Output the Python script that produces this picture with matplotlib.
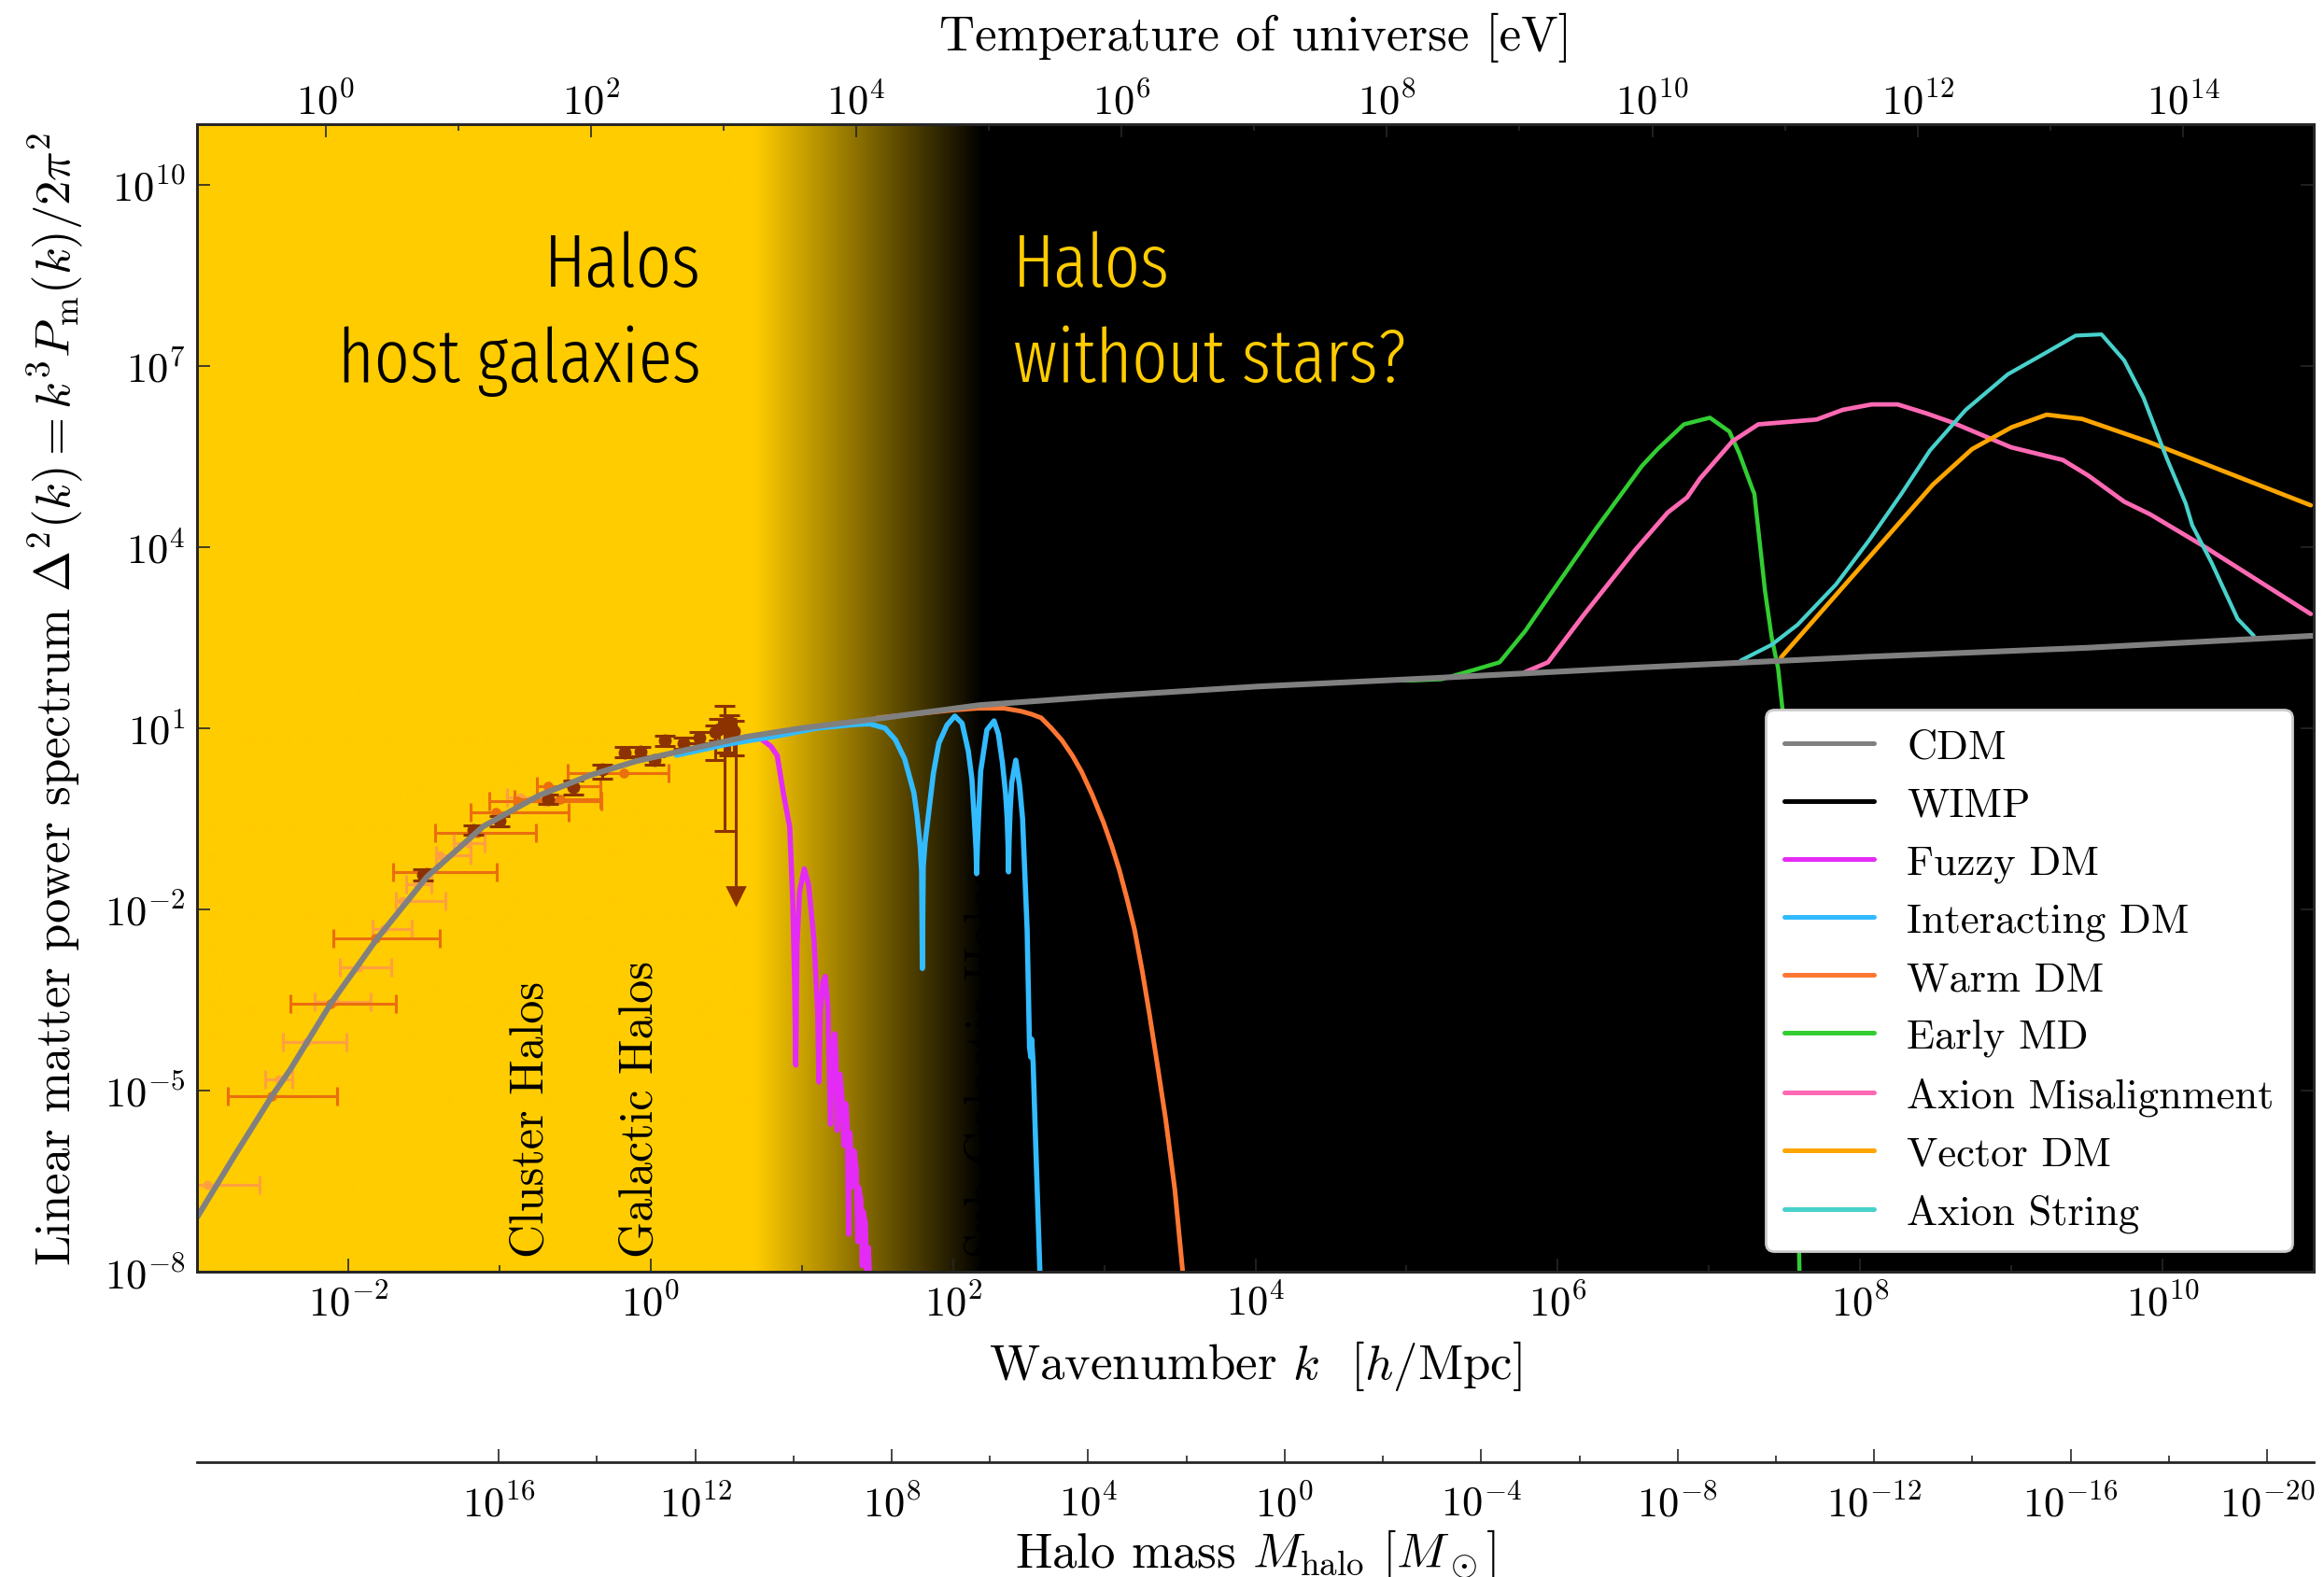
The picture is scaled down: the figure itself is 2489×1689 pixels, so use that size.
import numpy as np
import matplotlib
matplotlib.use('Agg')
import matplotlib.pyplot as plt
from matplotlib import font_manager
from matplotlib.ticker import FixedLocator, NullLocator, NullFormatter, LogFormatterMathtext

plt.rcParams['font.family'] = 'serif'
plt.rcParams['font.serif'] = ['cmr10', 'DejaVu Serif']
plt.rcParams['mathtext.fontset'] = 'cm'
plt.rcParams['axes.formatter.use_mathtext'] = True

# all curves are stored as log10(k [h/Mpc]) and log10(Delta^2)
cdm_logk = [-3.0, -2.75, -2.507, -2.385, -2.116, -1.808, -1.479, -1.109, -0.739, -0.4, -0.1,
            0.2, 0.631, 1.0, 1.453, 2.173, 3.0, 4.022, 5.19, 6.5, 8.03, 9.5, 11.0]
cdm_logd = [-7.10, -6.07, -5.10, -4.66, -3.56, -2.48, -1.46, -0.63, -0.116, 0.22, 0.45,
            0.62, 0.856, 1.0, 1.14, 1.38, 1.53, 1.69, 1.83, 2.0, 2.18, 2.33, 2.53]

wimp_logk = [4.5, 5.03, 5.2, 5.37, 5.53, 5.69, 5.92, 6.11, 6.25, 6.33]
wimp_logd = [1.77, 1.81, 1.45, 0.70, 0.25, -0.28, -1.9, -3.66, -6.1, -8.2]

fdm_logk = [0.3, 0.5, 0.71, 0.795, 0.837, 0.878, 0.92, 0.94, 0.952, 0.96, 0.968, 0.985, 1.016,
            1.045, 1.08, 1.105, 1.113, 1.122, 1.14, 1.155, 1.172, 1.19, 1.2, 1.217, 1.226, 1.233,
            1.242, 1.252, 1.265, 1.278, 1.285, 1.292, 1.3, 1.309, 1.313, 1.318, 1.33, 1.345, 1.36,
            1.37, 1.375, 1.39, 1.40, 1.405, 1.42, 1.43, 1.44, 1.45]
fdm_logd = [0.64, 0.77, 0.86, 0.70, 0.547, -0.08, -0.64, -1.87, -3.16, -4.58, -2.6, -1.7, -1.33,
            -1.6, -2.5, -3.7, -4.86, -3.7, -3.2, -3.11, -3.6, -5.56, -4.4, -4.06, -4.5, -5.66,
            -4.9, -4.73, -5.1, -5.91, -5.35, -5.22, -5.6, -7.38, -5.9, -5.7, -6.6, -6.0, -6.3,
            -7.5, -6.6, -6.8, -7.9, -7.0, -7.2, -8.2, -7.6, -8.3]

idm_logk = [0.17, 0.5, 0.837, 1.1, 1.35, 1.45, 1.55, 1.618, 1.68, 1.741, 1.762, 1.782, 1.792,
            1.797, 1.803, 1.815, 1.834, 1.87, 1.906, 1.96, 2.012, 2.06, 2.101, 2.125, 2.142,
            2.152, 2.156, 2.161, 2.17, 2.183, 2.224, 2.271, 2.30, 2.327, 2.348, 2.358, 2.364,
            2.367, 2.371, 2.378, 2.388, 2.415, 2.44, 2.46, 2.49, 2.506, 2.515, 2.52, 2.53, 2.543,
            2.577]
idm_logd = [0.55, 0.73, 0.87, 1.0, 1.06, 1.07, 1.0, 0.81, 0.49, -0.07, -0.45, -0.95, -1.36,
            -2.98, -1.3, -0.9, -0.50, 0.25, 0.75, 1.05, 1.20, 1.08, 0.62, 0.15, -0.56,
            -1.0, -1.41, -0.95, -0.4, 0.29, 0.97, 1.12, 0.9, 0.42, -0.1, -0.50, -0.95,
            -1.38, -0.85, -0.35, 0.09, 0.47, 0.05, -0.5, -2.33, -4.29, -4.45, -4.15, -4.55, -5.6,
            -8.2]

wdm_logk = [1.5, 2.0, 2.17, 2.336, 2.45, 2.52, 2.583, 2.65, 2.72, 2.789, 2.85, 2.92, 2.995,
            3.05, 3.1, 3.15, 3.2, 3.25, 3.3, 3.35, 3.406, 3.467, 3.519]
wdm_logd = [1.17, 1.30, 1.33, 1.33, 1.28, 1.23, 1.17, 1.0, 0.80, 0.547, 0.28, -0.10, -0.56,
            -0.95, -1.35, -1.82, -2.33, -3.0, -3.75, -4.55, -5.47, -6.64, -8.0]

emd_logk = [4.98, 5.04, 5.23, 5.44, 5.615, 5.785, 5.955, 6.255, 6.556, 6.66, 6.834, 7.006, 7.135,
            7.2, 7.284, 7.30, 7.348, 7.37, 7.414, 7.457, 7.49, 7.55, 7.6]
emd_logd = [1.79, 1.79, 1.81, 1.96, 2.09, 2.61, 3.23, 4.31, 5.34, 5.62, 6.03, 6.14, 5.91,
            5.55, 4.98, 4.88, 3.79, 3.28, 2.51, 1.99, 1.22, -2.0, -8.2]

amis_logk = [5.785, 5.935, 6.17, 6.512, 6.727, 6.855, 6.94, 7.155, 7.326, 7.712, 7.884, 8.076,
             8.248, 8.44, 8.61, 8.998, 9.34, 9.51, 9.746, 9.918, 10.28, 10.98]
amis_logd = [1.93, 2.09, 2.87, 3.95, 4.57, 4.82, 5.13, 5.75, 6.03, 6.11, 6.27, 6.36,
             6.36, 6.21, 6.06, 5.65, 5.44, 5.18, 4.75, 4.54, 4.0, 2.89]

vdm_logk = [7.476, 8.0, 8.48, 8.74, 9.0, 9.233, 9.468, 9.897, 10.98]
vdm_logd = [2.17, 3.66, 5.03, 5.62, 5.98, 6.19, 6.12, 5.75, 4.69]

astr_logk = [7.21, 7.414, 7.585, 7.84, 8.056, 8.27, 8.462, 8.698, 8.977, 9.21, 9.425, 9.596,
             9.746, 9.874, 10.024, 10.153, 10.196, 10.324, 10.496, 10.603]
astr_logd = [2.12, 2.38, 2.71, 3.38, 4.10, 4.87, 5.60, 6.27, 6.86, 7.19, 7.50, 7.52,
             7.09, 6.47, 5.49, 4.72, 4.36, 3.74, 2.81, 2.53]

# measurements: light (CMB / clusters), mid (galaxy surveys), dark (Lyman-alpha)
light_logk = [-2.93, -2.455, -2.28, -2.085, -1.93, -1.767, -1.644, -1.54, -1.397, -1.21, -0.863]
light_logd = [-6.56, -4.81, -4.20, -3.53, -2.96, -2.32, -1.87, -1.59, -1.11, -0.90, -0.15]
light_klo = [-3.05, -2.552, -2.435, -2.22, -2.055, -1.84, -1.685, -1.62, -1.42, -1.30, -0.95]
light_khi = [-2.589, -2.373, -2.014, -1.85, -1.716, -1.58, -1.356, -1.45, -1.19, -1.10, -0.70]

mid_logk = [-2.507, -2.116, -1.818, -1.479, -1.15, -1.027, -0.883, -0.678, -0.6, -0.18]
mid_logd = [-5.10, -3.56, -2.48, -1.39, -0.736, -0.39, -0.21, 0.04, -0.175, 0.25]
mid_klo = [-2.794, -2.383, -2.096, -1.705, -1.428, -1.19, -1.068, -0.75, -0.9, -0.55]
mid_khi = [-2.075, -1.685, -1.397, -1.017, -0.76, -0.544, -0.328, -0.33, -0.335, 0.12]

dark_logk = [-1.504, -1.175, -1.0, -0.679, -0.514, -0.32, -0.17, -0.067, 0.025, 0.093, 0.22,
             0.32, 0.426, 0.45, 0.487, 0.50, 0.52, 0.55]
dark_logd = [-1.43, -0.69, -0.54, -0.175, 0.03, 0.32, 0.60, 0.61, 0.47, 0.79, 0.75,
             0.84, 0.93, 0.98, 1.07, 1.0, 1.10, 0.95]
dark_dlo = [-1.52, -0.77, -0.62, -0.25, -0.10, 0.16, 0.52, 0.53, 0.40, 0.70, 0.66,
            0.75, 0.47, 0.80, -0.71, 0.60, 0.55, 0.55]
dark_dhi = [-1.34, -0.61, -0.46, -0.10, 0.13, 0.39, 0.69, 0.69, 0.53, 0.88, 0.84,
            0.93, 1.04, 1.15, 1.37, 1.15, 1.22, 1.12]

# upper limit from the smallest-scale Lyman-alpha bin
ulim_logk = 0.565
ulim_top = 1.10
ulim_bottom = -1.77

K_RANGE = (-3.0, 11.0)
D_RANGE = (-8.0, 11.0)
T_RANGE = (-0.9676, 14.986)
M_RANGE = (22.14, -20.95)
FADE_START = 0.69   # log10 k where the galaxy-hosting band starts to fade
FADE_END = 2.19

YELLOW = '#FFCC00'
COLORS = {
    'CDM': '#808080', 'WIMP': 'black', 'Fuzzy DM': '#E42BF5', 'Interacting DM': '#33BBFF',
    'Warm DM': '#FF7733', 'Early MD': '#32CD32', 'Axion Misalignment': '#FF69B4',
    'Vector DM': '#FFA500', 'Axion String': '#48D1CC',
}


def pw(vals):
    return 10.0 ** np.asarray(vals, dtype=float)


def banner_font():
    # narrow sans for the two big statements
    names = {f.name for f in font_manager.fontManager.ttflist}
    for fam, wt in (('Fira Sans Extra Condensed', 300), ('Fira Sans Condensed', 300)):
        if fam in names:
            return dict(family=[fam, 'DejaVu Sans'], fontweight=wt)
    return dict(family=['Open Sans', 'DejaVu Sans'], fontstretch='condensed', fontweight=300)


fig = plt.figure(figsize=(12.445, 8.45), dpi=200)
pos = [0.0848, 0.1935, 0.9108, 0.7272]

# background: yellow band fading into black
bg = fig.add_axes(pos, zorder=0)
grid = np.linspace(K_RANGE[0], K_RANGE[1], 1400)
t = np.clip((grid - FADE_START) / (FADE_END - FADE_START), 0, 1)
rgb = np.array(matplotlib.colors.to_rgb(YELLOW))
shade = (1 - t)[None, :, None] * rgb[None, None, :]
bg.imshow(shade, extent=(0, 1, 0, 1), aspect='auto', interpolation='bilinear')
bg.set_xlim(0, 1)
bg.set_ylim(0, 1)
bg.axis('off')

ax = fig.add_axes(pos, zorder=1)
ax.patch.set_visible(False)
ax.set_xscale('log')
ax.set_yscale('log')

ax.errorbar(pw(light_logk), pw(light_logd),
            xerr=[pw(light_logk) - pw(light_klo), pw(light_khi) - pw(light_logk)],
            fmt='o', ms=2.5, color='#FFA040', ecolor='#FFA040', elinewidth=1.1,
            capsize=3.5, capthick=1.1, zorder=2)
ax.errorbar(pw(mid_logk), pw(mid_logd),
            xerr=[pw(mid_logk) - pw(mid_klo), pw(mid_khi) - pw(mid_logk)],
            fmt='o', ms=2.8, color='#EB6E0F', ecolor='#EB6E0F', elinewidth=1.1,
            capsize=3.5, capthick=1.1, zorder=2.1)
ax.errorbar(pw(dark_logk), pw(dark_logd),
            yerr=[pw(dark_logd) - pw(dark_dlo), pw(dark_dhi) - pw(dark_logd)],
            fmt='o', ms=4.0, color='#8C3200', ecolor='#8C3200', elinewidth=1.1,
            capsize=3.8, capthick=1.1, zorder=2.2)
ax.plot(pw([ulim_logk, ulim_logk]), pw([ulim_top, ulim_bottom]), color='#8C3200', lw=1.1,
        zorder=2.2)
ax.plot(pw([ulim_logk]), pw([ulim_bottom]), marker='v', ms=6.5, color='#8C3200', zorder=2.2)

models = [
    ('CDM', cdm_logk, cdm_logd, 2.2, 3.0),
    ('WIMP', wimp_logk, wimp_logd, 1.6, 2.0),
    ('Fuzzy DM', fdm_logk, fdm_logd, 2.0, 2.4),
    ('Interacting DM', idm_logk, idm_logd, 2.0, 2.5),
    ('Warm DM', wdm_logk, wdm_logd, 1.8, 2.3),
    ('Early MD', emd_logk, emd_logd, 1.6, 2.3),
    ('Axion Misalignment', amis_logk, amis_logd, 1.7, 2.3),
    ('Vector DM', vdm_logk, vdm_logd, 1.7, 2.3),
    ('Axion String', astr_logk, astr_logd, 1.5, 2.3),
]
for name, lk, ld, lw, z in models:
    ax.plot(pw(lk), pw(ld), color=COLORS[name], lw=lw, label=name, zorder=z,
            solid_capstyle='round', solid_joinstyle='round')

ax.set_xlim(pw(K_RANGE))
ax.set_ylim(pw(D_RANGE))

# halo-type labels along the bottom
for txt, lk in [('Cluster Halos', -0.793), ('Galactic Halos', -0.07),
                ('Sub-Galactic Halos', 2.216)]:
    ax.text(10 ** lk, 10 ** -7.75, txt, rotation=90, ha='center', va='bottom',
            fontsize=18, color='black', zorder=1.5)

big = dict(fontsize=29, transform=ax.transAxes, va='baseline', zorder=1.5, **banner_font())
ax.text(0.238, 0.8595, 'Halos', ha='right', color='black', **big)
ax.text(0.238, 0.776, 'host galaxies', ha='right', color='black', **big)
ax.text(0.3853, 0.8595, 'Halos', ha='left', color=YELLOW, **big)
ax.text(0.3853, 0.776, 'without stars?', ha='left', color=YELLOW, **big)

leg = ax.legend(loc='lower right', bbox_to_anchor=(0.990, 0.018), borderaxespad=0,
                fontsize=16, handlelength=2.15, handletextpad=0.8, labelspacing=0.49,
                borderpad=0.45, fancybox=True, framealpha=1, edgecolor='#cccccc')
leg.set_zorder(10)
for h in leg.get_lines():
    h.set_linewidth(1.8)

spine_col = '#262626'
tick_kw = dict(direction='in', color=spine_col, width=0.6)

ax.xaxis.set_major_locator(FixedLocator(pw(np.arange(-2, 11, 2))))
ax.xaxis.set_minor_locator(FixedLocator(pw(np.arange(-3, 12, 2))))
ax.xaxis.set_major_formatter(LogFormatterMathtext())
ax.xaxis.set_minor_formatter(NullFormatter())
ax.yaxis.set_major_locator(FixedLocator(pw(np.arange(-8, 11, 3))))
ax.yaxis.set_minor_locator(NullLocator())
ax.yaxis.set_major_formatter(LogFormatterMathtext())
ax.tick_params(which='major', length=4.9, labelsize=16, pad=4.5, right=True, **tick_kw)
ax.tick_params(which='minor', length=2.5, **tick_kw)
for sp in ax.spines.values():
    sp.set_color(spine_col)
    sp.set_linewidth(1.0)

ax.set_xlabel(r'Wavenumber $k$  $[h/\mathrm{Mpc}]$', fontsize=19)
ax.xaxis.set_label_coords(0.5, -0.058)
ax.set_ylabel(r'Linear matter power spectrum $\Delta^2(k) = k^3P_\mathrm{m}(k)/2\pi^2$',
              fontsize=19)
ax.yaxis.set_label_coords(-0.053, 0.5)

# temperature of the universe on top
axT = ax.twiny()
axT.set_xscale('log')
axT.set_xlim(pw(T_RANGE))
axT.xaxis.set_major_locator(FixedLocator(pw(np.arange(0, 15, 2))))
axT.xaxis.set_minor_locator(FixedLocator(pw(np.arange(1, 15, 2))))
axT.xaxis.set_major_formatter(LogFormatterMathtext())
axT.xaxis.set_minor_formatter(NullFormatter())
axT.tick_params(which='major', length=4.9, labelsize=16, pad=1.0, **tick_kw)
axT.tick_params(which='minor', length=2.5, **tick_kw)
axT.set_xlabel('Temperature of universe [eV]', fontsize=19)
axT.xaxis.set_label_coords(0.5, 1.065)
for sp in axT.spines.values():
    sp.set_color(spine_col)
    sp.set_linewidth(1.0)

# halo mass axis below
axM = fig.add_axes([pos[0], 0.0728, pos[2], 0.0005])
axM.patch.set_visible(False)
for side in ('top', 'left', 'right'):
    axM.spines[side].set_visible(False)
axM.spines['bottom'].set_color(spine_col)
axM.spines['bottom'].set_linewidth(1.0)
axM.set_yticks([])
axM.set_xscale('log')
axM.set_xlim(pw(M_RANGE))
axM.xaxis.set_major_locator(FixedLocator(pw(np.arange(16, -21, -4))))
axM.xaxis.set_minor_locator(FixedLocator(pw(np.arange(14, -19, -4))))
axM.xaxis.set_major_formatter(LogFormatterMathtext())
axM.xaxis.set_minor_formatter(NullFormatter())
axM.tick_params(which='major', length=4.9, labelsize=16, pad=8.5, **tick_kw)
axM.tick_params(which='minor', length=2.5, **tick_kw)
axM.set_xlabel(r'Halo mass $M_\mathrm{halo}$ $[M_\odot]$', fontsize=19, labelpad=1)

fig.savefig('out.png', dpi=200)
